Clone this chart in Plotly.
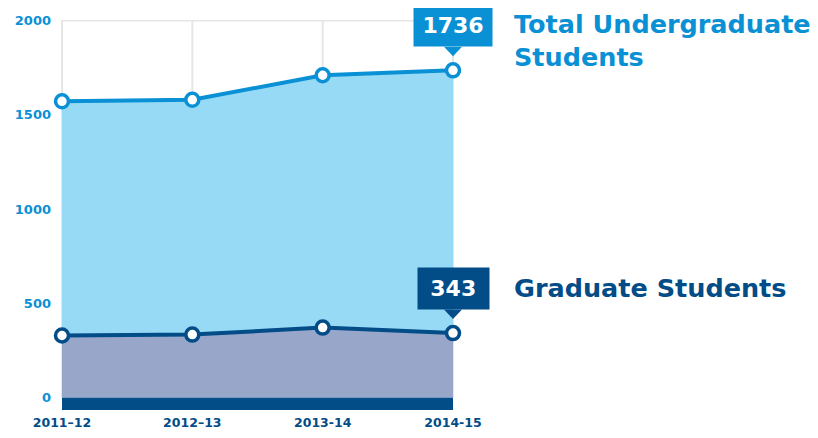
import plotly.graph_objects as go

# ---- data ----
years = ["2011–12", "2012–13", "2013-14", "2014-15"]
undergrad = [1572, 1580, 1710, 1736]
graduate = [330, 335, 372, 343]
y_ticks = [0, 500, 1000, 1500, 2000]
undergrad_label = "Total Undergraduate<br>Students"
graduate_label = "Graduate Students"

# ---- style ----
BLUE = "#0A90D4"
LIGHT_BLUE = "#96DAF6"
NAVY = "#024C87"
PURPLE = "#97A6C9"
GRID = "#E6E6E6"
FONT = "DejaVu Sans"
Y_MIN, Y_MAX = -65, 2003
n = len(years)
X_RANGE = [0, n - 1]


def to_paper(i):
    return (i - X_RANGE[0]) / (X_RANGE[1] - X_RANGE[0])


fig = go.Figure()

# grid (drawn as shapes below traces so edge lines are kept and fills cover them)
for i in range(n):
    fig.add_shape(type="line", xref="paper", yref="y", x0=to_paper(i), x1=to_paper(i),
                  y0=0, y1=y_ticks[-1], line=dict(color=GRID, width=2), layer="below")
fig.add_shape(type="line", xref="paper", yref="y", x0=to_paper(0), x1=to_paper(n - 1),
              y0=y_ticks[-1], y1=y_ticks[-1], line=dict(color=GRID, width=2), layer="below")

for vals, line_c, fill_c in [(undergrad, BLUE, LIGHT_BLUE), (graduate, NAVY, PURPLE)]:
    fig.add_trace(go.Scatter(
        x=years, y=vals, mode="lines+markers",
        fill="tozeroy", fillcolor=fill_c,
        line=dict(color=line_c, width=4),
        marker=dict(size=13, color="white", line=dict(color=line_c, width=3.5)),
        cliponaxis=False, hoverinfo="skip", showlegend=False,
    ))

# dark baseline band below zero
fig.add_shape(type="rect", xref="x", yref="y", x0=0, x1=n - 1,
              y0=Y_MIN, y1=0, fillcolor=NAVY, line=dict(width=0), layer="above")

# callouts on the last value of each series
for vals, color in [(undergrad, BLUE), (graduate, NAVY)]:
    last = vals[-1]
    txt = str(last)
    fig.add_annotation(
        xref="x", yref="y", x=n - 1, y=last,
        text=txt, showarrow=False, yanchor="bottom", yshift=23,
        width=48 + 7.5 * len(txt), height=41, borderpad=0,
        bgcolor=color, font=dict(family=FONT, size=22, color="white", weight="bold"),
    )
    fig.add_shape(
        type="path", xref="paper", yref="y",
        xsizemode="pixel", ysizemode="pixel", xanchor=to_paper(n - 1), yanchor=last,
        path="M -9,23.5 L 9,23.5 L 0,14 Z",
        fillcolor=color, line=dict(width=0), layer="above",
    )

# series labels
fig.add_annotation(xref="paper", yref="paper", x=1, xshift=59, xanchor="left",
                   y=0.9487, yanchor="middle", align="left", showarrow=False,
                   text=undergrad_label,
                   font=dict(family=FONT, size=25.5, color=BLUE, weight="bold"))
fig.add_annotation(xref="paper", yref="paper", x=1, xshift=59, xanchor="left",
                   y=0.3128, yanchor="middle", align="left", showarrow=False,
                   text=graduate_label,
                   font=dict(family=FONT, size=25.5, color=NAVY, weight="bold"))

# page body has an 8px default margin, so the figure is sized/offset to compensate
fig.update_layout(
    width=810, height=430,
    margin=dict(l=54, r=365, t=12, b=28, autoexpand=False),
    paper_bgcolor="white", plot_bgcolor="white",
    xaxis=dict(type="category", range=X_RANGE, automargin=False,
               showgrid=False, zeroline=False, showline=False, ticks="",
               tickfont=dict(family=FONT, size=12.5, color=NAVY, weight="bold"),
               ticklabelstandoff=3),
    yaxis=dict(range=[Y_MIN, Y_MAX], tickvals=y_ticks, automargin=False,
               showgrid=False, zeroline=False, showline=False, ticks="",
               tickfont=dict(family=FONT, size=13, color=BLUE, weight="bold"),
               ticklabelstandoff=10),
)

fig.write_html("out.html")
